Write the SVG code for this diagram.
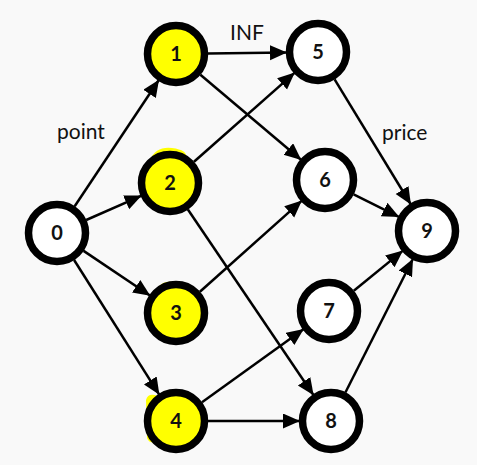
<svg xmlns="http://www.w3.org/2000/svg" width="477" height="465" viewBox="0 0 477 465">
<defs>
<marker id="arr" markerUnits="userSpaceOnUse" markerWidth="20" markerHeight="18" refX="17" refY="7.5" orient="auto">
<path d="M0,0 L17,7.5 L0,15 z" fill="#000"/>
</marker>
<style>
.e{stroke:#000;stroke-width:2.5;fill:none;marker-end:url(#arr)}
.n{stroke:#000;stroke-width:7.5;fill:#fff}
.y{fill:#ffff00}
.t{font-family:Lato,"Liberation Sans",sans-serif;font-weight:bold;font-size:20px;text-anchor:middle;fill:#111}
.l{font-family:Lato,"Liberation Sans",sans-serif;font-size:21px;fill:#111}
</style>
</defs>
<rect width="477" height="465" fill="#f9f9f9"/>
<g id="blobs" fill="#ffff00">
<path d="M150,160 Q156,146 172,148 Q188,150 186,158 L160,168 z"/>
<path d="M156,296 Q158,280 172,282 Q180,286 178,292 L160,300 z"/>
<path d="M146,400 Q148,392 158,396 L162,440 Q150,446 147,438 z"/>
</g>
<g id="connectors">
<line class="e" x1="74.7" y1="206.3" x2="159" y2="79.8"/>
<line class="e" x1="86.2" y1="220" x2="141.7" y2="195.6"/>
<line class="e" x1="83.6" y1="250.9" x2="150.3" y2="295.7"/>
<line class="e" x1="74.1" y1="260" x2="159.4" y2="394.8"/>
<line class="e" x1="208" y1="53.5" x2="287" y2="52.4"/>
<line class="e" x1="200.4" y1="74.7" x2="301.3" y2="160"/>
<line class="e" x1="194" y1="161.8" x2="294.8" y2="72.6"/>
<line class="e" x1="187.9" y1="209.5" x2="313.6" y2="395.3"/>
<line class="e" x1="199.9" y1="291.7" x2="301.9" y2="200.6"/>
<line class="e" x1="202" y1="402.3" x2="303.8" y2="329.1"/>
<line class="e" x1="208" y1="421" x2="300" y2="421"/>
<line class="e" x1="334.6" y1="79.3" x2="410.9" y2="204.5"/>
<line class="e" x1="353.6" y1="194.3" x2="399.3" y2="217.1"/>
<line class="e" x1="353.8" y1="290.8" x2="403" y2="250.6"/>
<line class="e" x1="345.4" y1="392.5" x2="413" y2="258.7"/>
</g>
<g id="labels">
<text class="l" x="57" y="139">point</text>
<text class="l" x="230" y="40">INF</text>
<text class="l" x="382" y="140">price</text>
</g>
<g id="node0"><circle class="n" cx="57" cy="233" r="28.5"/><text class="t" x="57" y="240">0</text></g>
<g id="node1"><circle class="n y" cx="176" cy="54" r="28.5"/><text class="t" x="176" y="61">1</text></g>
<g id="node2"><circle class="n y" cx="170" cy="183" r="28.5"/><text class="t" x="170" y="190">2</text></g>
<g id="node3"><circle class="n y" cx="176" cy="313" r="28.5"/><text class="t" x="176" y="320">3</text></g>
<g id="node4"><circle class="n y" cx="176" cy="421" r="28.5"/><text class="t" x="176" y="428">4</text></g>
<g id="node5"><circle class="n" cx="318" cy="52" r="28.5"/><text class="t" x="318" y="59">5</text></g>
<g id="node6"><circle class="n" cx="325" cy="180" r="28.5"/><text class="t" x="325" y="187">6</text></g>
<g id="node7"><circle class="n" cx="329" cy="311" r="28.5"/><text class="t" x="329" y="318">7</text></g>
<g id="node8"><circle class="n" cx="331" cy="421" r="28.5"/><text class="t" x="331" y="428">8</text></g>
<g id="node9"><circle class="n" cx="427" cy="231" r="28.5"/><text class="t" x="427" y="238">9</text></g>
</svg>
